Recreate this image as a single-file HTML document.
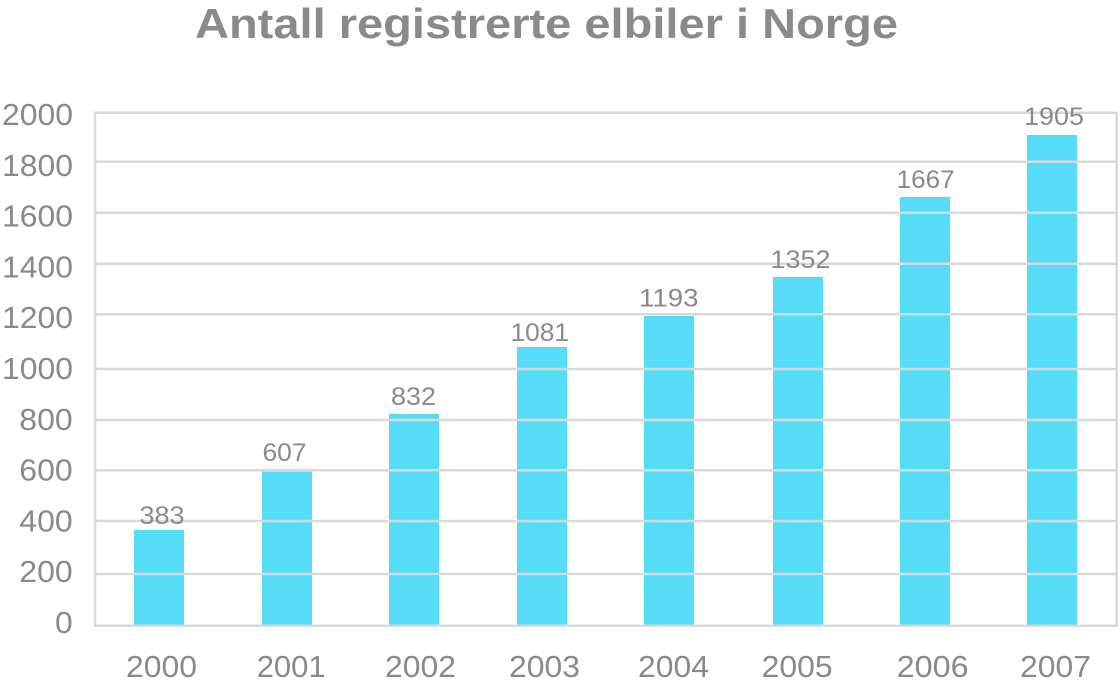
<!DOCTYPE html>
<html>
<head>
<meta charset="utf-8">
<style>
  html, body { margin: 0; padding: 0; background: #ffffff; }
  body { width: 1120px; height: 688px; overflow: hidden; }
  svg { display: block; }
  text { font-family: "Liberation Sans", sans-serif; fill: #8a8a8a; }
</style>
</head>
<body>
<svg width="1120" height="688" viewBox="0 0 1120 688" xmlns="http://www.w3.org/2000/svg">
  <!-- Title -->
  <text x="195" y="38" font-size="42" font-weight="bold" textLength="703" lengthAdjust="spacingAndGlyphs" fill="#8c8c8c">Antall registrerte elbiler i Norge</text>

  <!-- Bars -->
  <g fill="#55dcf7">
    <rect x="134" y="530" width="50" height="95.7"/>
    <rect x="262" y="471.7" width="50" height="154"/>
    <rect x="389" y="414" width="50" height="211.7"/>
    <rect x="517" y="347" width="50" height="278.7"/>
    <rect x="644" y="316" width="50" height="309.7"/>
    <rect x="773" y="277" width="50" height="348.7"/>
    <rect x="900" y="197" width="50" height="428.7"/>
    <rect x="1027" y="135" width="50" height="490.7"/>
  </g>

  <!-- Grid lines (drawn over bars) -->
  <g stroke="#d9d9d9" stroke-width="2.5">
    <line x1="95" x2="1117" y1="112.7" y2="112.7"/>
    <line x1="95" x2="1117" y1="161.7" y2="161.7"/>
    <line x1="95" x2="1117" y1="212.7" y2="212.7"/>
    <line x1="95" x2="1117" y1="263.7" y2="263.7"/>
    <line x1="95" x2="1117" y1="314.3" y2="314.3"/>
    <line x1="95" x2="1117" y1="369" y2="369"/>
    <line x1="95" x2="1117" y1="420" y2="420"/>
    <line x1="95" x2="1117" y1="470.3" y2="470.3"/>
    <line x1="95" x2="1117" y1="521" y2="521"/>
    <line x1="95" x2="1117" y1="574" y2="574"/>
    <line x1="95" x2="1117" y1="625.7" y2="625.7"/>
    <line x1="95" x2="95" y1="111.5" y2="627"/>
    <line x1="1116.7" x2="1116.7" y1="111.5" y2="627"/>
  </g>

  <!-- Y axis labels -->
  <g font-size="31">
    <text x="2" y="125" textLength="71" lengthAdjust="spacingAndGlyphs">2000</text>
    <text x="2" y="175.8" textLength="71" lengthAdjust="spacingAndGlyphs">1800</text>
    <text x="2" y="226.6" textLength="71" lengthAdjust="spacingAndGlyphs">1600</text>
    <text x="2" y="277.4" textLength="71" lengthAdjust="spacingAndGlyphs">1400</text>
    <text x="2" y="328.2" textLength="71" lengthAdjust="spacingAndGlyphs">1200</text>
    <text x="2" y="379" textLength="71" lengthAdjust="spacingAndGlyphs">1000</text>
    <text x="19.3" y="429.8" textLength="53.4" lengthAdjust="spacingAndGlyphs">800</text>
    <text x="19.3" y="480.6" textLength="53.4" lengthAdjust="spacingAndGlyphs">600</text>
    <text x="19.3" y="531.4" textLength="53.4" lengthAdjust="spacingAndGlyphs">400</text>
    <text x="19.3" y="582.2" textLength="53.4" lengthAdjust="spacingAndGlyphs">200</text>
    <text x="55" y="633" textLength="17.7" lengthAdjust="spacingAndGlyphs">0</text>
  </g>

  <!-- X axis labels -->
  <g font-size="31">
    <text x="126" y="677" textLength="71" lengthAdjust="spacingAndGlyphs">2000</text>
    <text x="256.7" y="677" textLength="69" lengthAdjust="spacingAndGlyphs">2001</text>
    <text x="385" y="677" textLength="71" lengthAdjust="spacingAndGlyphs">2002</text>
    <text x="509" y="677" textLength="71" lengthAdjust="spacingAndGlyphs">2003</text>
    <text x="638" y="677" textLength="71" lengthAdjust="spacingAndGlyphs">2004</text>
    <text x="761.7" y="677" textLength="71" lengthAdjust="spacingAndGlyphs">2005</text>
    <text x="896.7" y="677" textLength="72" lengthAdjust="spacingAndGlyphs">2006</text>
    <text x="1020" y="677" textLength="71" lengthAdjust="spacingAndGlyphs">2007</text>
  </g>

  <!-- Value labels -->
  <g font-size="25">
    <text x="139.5" y="524" textLength="45" lengthAdjust="spacingAndGlyphs">383</text>
    <text x="262.5" y="461" textLength="44" lengthAdjust="spacingAndGlyphs">607</text>
    <text x="391" y="405" textLength="45" lengthAdjust="spacingAndGlyphs">832</text>
    <text x="510.5" y="341" textLength="58.5" lengthAdjust="spacingAndGlyphs">1081</text>
    <text x="639" y="306.7" textLength="59.5" lengthAdjust="spacingAndGlyphs">1193</text>
    <text x="770.5" y="268" textLength="60" lengthAdjust="spacingAndGlyphs">1352</text>
    <text x="896.7" y="188" textLength="58" lengthAdjust="spacingAndGlyphs">1667</text>
    <text x="1024" y="125" textLength="60" lengthAdjust="spacingAndGlyphs">1905</text>
  </g>
</svg>
</body>
</html>
